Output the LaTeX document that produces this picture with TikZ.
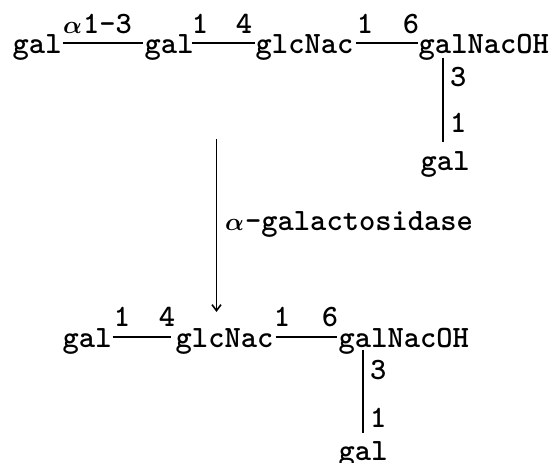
\documentclass[tikz,border=0pt]{standalone}
\usepackage{bm}
\usetikzlibrary{arrows.meta}
\begin{document}
\begin{tikzpicture}[x=1pt,y=1pt,
  tw/.style={font=\fontsize{31}{37}\selectfont\ttfamily\bfseries},
  sugar/.style={tw,inner sep=0pt,anchor=base west},
  lbl/.style={tw,inner sep=0pt,anchor=base},
  lblw/.style={tw,inner sep=0pt,anchor=base west},
  bond/.style={line width=1.6pt},
  react/.style={line width=1.9pt,-{Straight Barb[length=6pt,width=9pt,line width=1.6pt]}}]
\useasboundingbox (0,0) rectangle (555,463);
% top structure
\node[sugar] (n1) at (12.5,409) {gal};
\node[sugar] (n2) at (144.5,409) {gal};
\node[sugar] (n3) at (255.5,409) {glcNac};
\node[sugar] (n4) at (418.5,409) {galNacOH};
\node[sugar] (n5) at (420.5,292) {gal};
\draw[bond] ([xshift=1pt,yshift=11pt]n1.base east) -- ([xshift=-2pt,yshift=11pt]n2.base west);
\draw[bond] ([xshift=-2pt,yshift=11pt]n2.base east) -- ([xshift=-0.5pt,yshift=11pt]n3.base west);
\draw[bond] ([xshift=2pt,yshift=11pt]n3.base east) -- ([xshift=-0.5pt,yshift=11pt]n4.base west);
\draw[bond] ([xshift=24.4pt,yshift=-4pt]n4.base west) -- ([xshift=22.4pt,yshift=29pt]n5.base west);
\node[lblw] (t1) at (63,429) {$\bm{\alpha}$\kern1pt1-3};
\node[lbl] (t2) at (200,429) {1};
\node[lbl] (t3) at (244,429) {4};
\node[lbl] (t4) at (365,429) {1};
\node[lbl] (t5) at (411,429) {6};
\node[lblw] (t6) at (450,376.5) {3};
\node[lblw] (t7) at (450,330.5) {1};
% reaction arrow
\coordinate (a1) at (216.5,324);
\coordinate (a2) at (216.5,151);
\draw[react] (a1) -- (a2);
\node[lblw] (enz) at (225,232) {$\bm{\alpha}$\kern1pt-galactosidase};
% bottom structure
\node[sugar] (m1) at (62.5,115) {gal};
\node[sugar] (m2) at (175.5,115) {glcNac};
\node[sugar] (m3) at (338.5,115) {galNacOH};
\node[sugar] (m4) at (338.5,2) {gal};
\draw[bond] ([xshift=1pt,yshift=11pt]m1.base east) -- ([xshift=-5pt,yshift=11pt]m2.base west);
\draw[bond] ([xshift=2pt,yshift=11pt]m2.base east) -- ([xshift=-1.5pt,yshift=11pt]m3.base west);
\draw[bond] ([xshift=24.4pt,yshift=-2pt]m3.base west) -- ([xshift=24.4pt,yshift=28pt]m4.base west);
\node[lbl] (b2) at (122,136) {1};
\node[lbl] (b3) at (167,136) {4};
\node[lbl] (b4) at (282,136) {1};
\node[lbl] (b5) at (330,136) {6};
\node[lblw] (b6) at (370,83.5) {3};
\node[lblw] (b7) at (370,35.5) {1};
\end{tikzpicture}
\end{document}
